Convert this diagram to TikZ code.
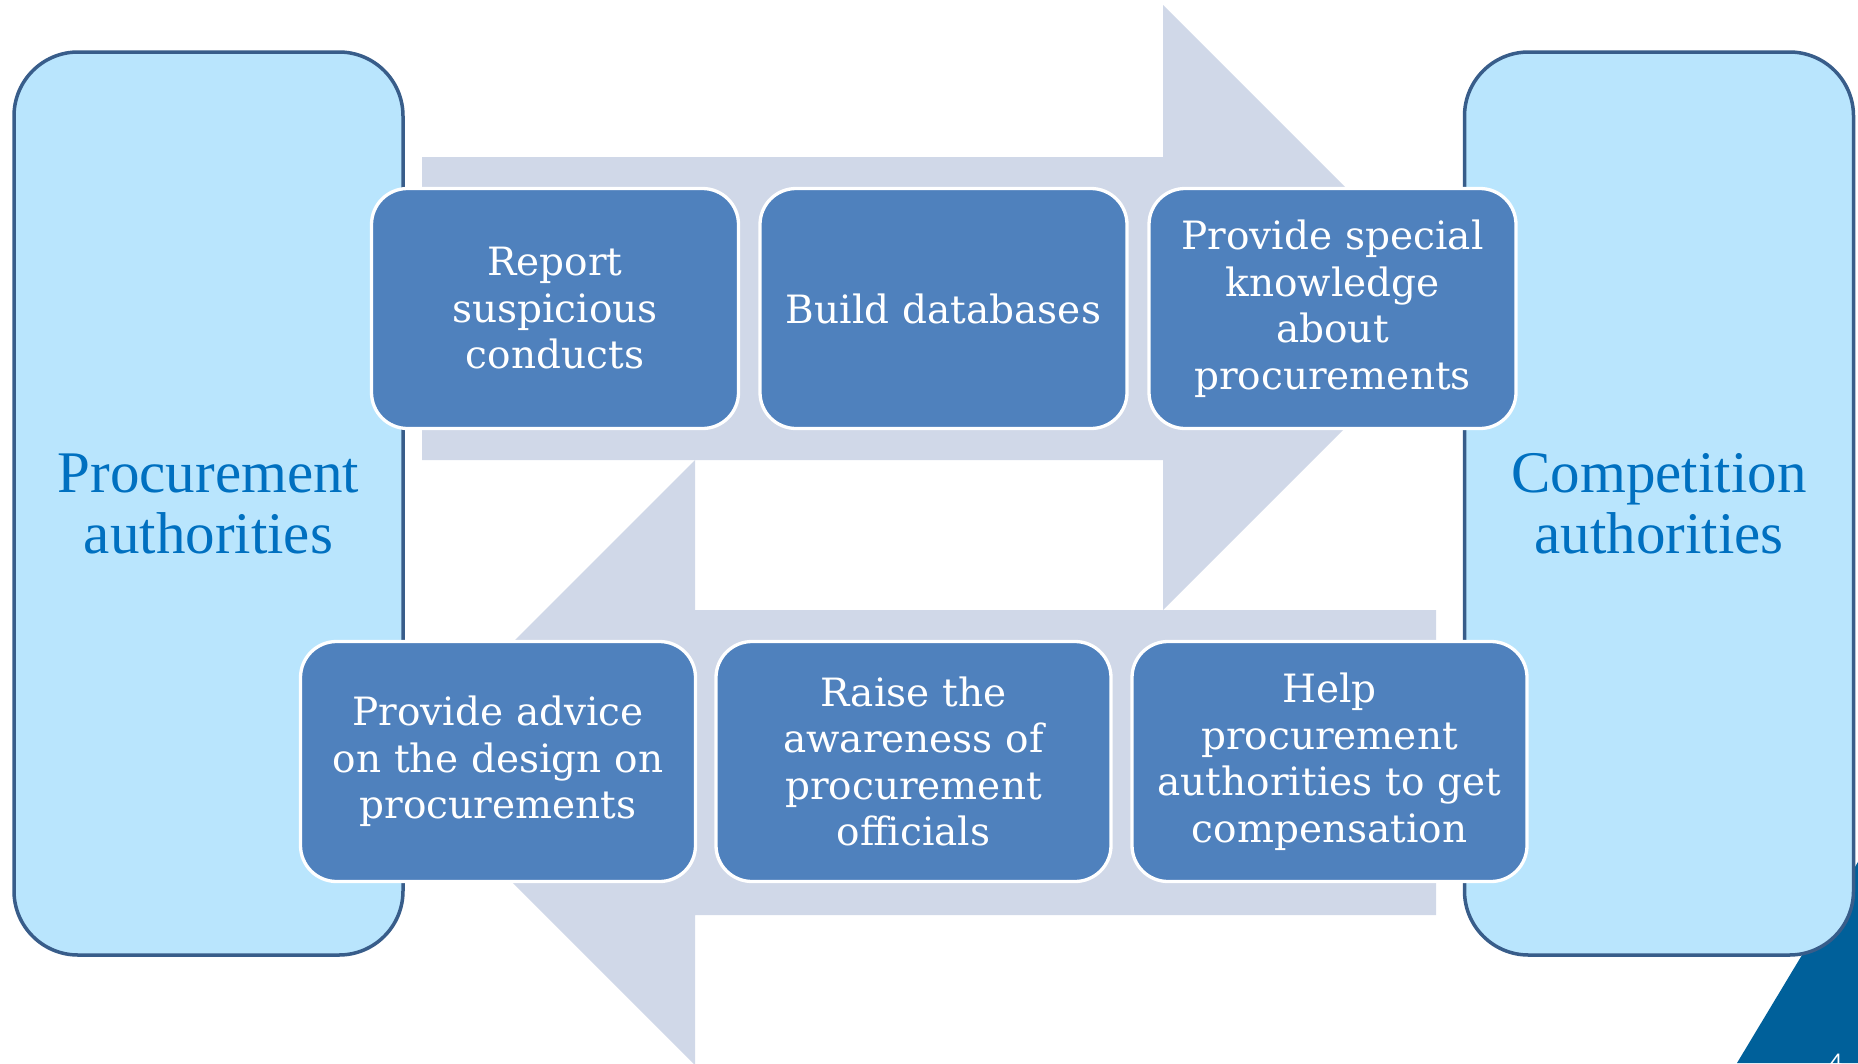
\documentclass[tikz,border=0pt]{standalone}
\usepackage{fontspec}
\setmainfont{DejaVu Serif}
\newfontfamily\sidefont{Liberation Serif}
\newfontfamily\numfont{Carlito}
\definecolor{sidefill}{RGB}{185,229,253}
\definecolor{sideline}{RGB}{56,93,138}
\definecolor{sidetext}{RGB}{0,112,192}
\definecolor{taskfill}{RGB}{79,129,189}
\definecolor{flowgrey}{RGB}{208,216,232}
\definecolor{cornerblue}{RGB}{0,96,154}
\tikzset{
  side/.style={draw=sideline, line width=3.5pt, fill=sidefill, rounded corners=64pt,
    minimum width=389pt, minimum height=903pt, inner sep=0pt, text width=380pt,
    align=center, text=sidetext, font=\sidefont\fontsize{59}{61}\selectfont},
  task/.style={draw=white, line width=3.3pt, fill=taskfill, rounded corners=36pt,
    minimum height=240pt, minimum width=#1, text width=#1, inner sep=0pt,
    align=center, text=white, font=\fontsize{39}{46.5}\selectfont},
}

\begin{document}
\begin{tikzpicture}[x=1pt, y=-1pt]
			%%%%% START %%%%%
			
			\clip (0, 0) rectangle (1858, 1063);
			\fill[white] (0, 0) rectangle (1858, 1063);
			
			% corner of the slide
			\fill[cornerblue] (1737, 1063) -- (1870, 842) -- (1870, 1063) -- cycle;
			\node[anchor=north, text=white, inner sep=0pt, font=\numfont\fontsize{24}{24}\selectfont] (pagenum) at (1836, 1054) {4};
			
			% the two big arrows
			\fill[flowgrey] (422, 157) -- (1163, 157) -- (1163, 5) -- (1465.5, 307.5)
				-- (1163, 610) -- (1163, 460) -- (422, 460) -- cycle;
			\fill[flowgrey] (1436, 610) -- (695, 610) -- (695, 460) -- (392.5, 762.5)
				-- (695, 1065) -- (695, 915) -- (1436, 915) -- cycle;
			
			\node[side] (procure) at (208.5, 503.5) {Procurement\\authorities};
			\node[side] (compete) at (1659, 503.5) {Competition\\authorities};
			
			% top row
			\node[task=367pt] (report) at (555, 308.5) {Report\\suspicious\\conducts};
			\node[task=367pt] (build) at (943.5, 308.5) {Build databases};
			\node[task=367pt] (special) at (1332.5, 308.5) {Provide special\\knowledge\\about\\procurements};
			
			% bottom row
			\node[task=395pt] (advice) at (498, 761.5) {Provide advice\\on the design on\\procurements};
			\node[task=395pt] (aware) at (913.5, 761.5) {Raise the\\awareness of\\procurement\\officials};
			\node[task=395pt] (help) at (1329.5, 761.5) {Help\\procurement\\authorities to get\\compensation};
			
			%%%%% END %%%%%
\end{tikzpicture}
\end{document}
